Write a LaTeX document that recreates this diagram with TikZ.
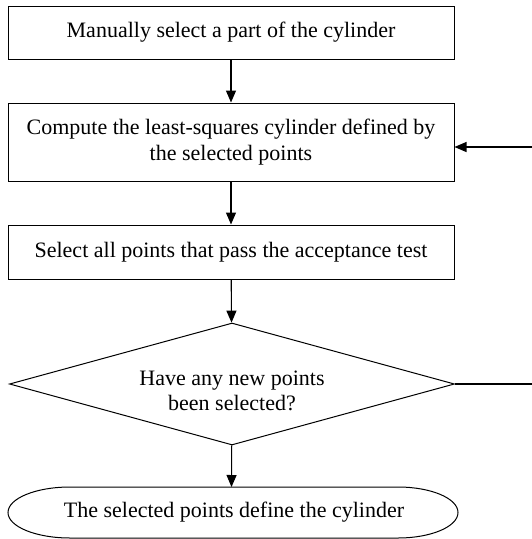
\documentclass[tikz,border=0pt]{standalone}
\usepackage{fontspec}
\setmainfont{Liberation Serif}
\usetikzlibrary{arrows.meta,shapes.geometric}
\begin{document}
\begin{tikzpicture}[x=1pt,y=-1pt,
  every node/.style={font=\fontsize{22}{25.5}\selectfont},
  procbox/.style={draw,line width=1pt,minimum width=446pt,inner sep=0pt,align=center},
  decision/.style={draw,line width=1pt,shape=diamond,aspect=3.65,minimum width=445pt,minimum height=122pt,inner sep=0pt,align=center},
  flow/.style={line width=1.1pt,-{Triangle[length=12pt,width=10pt]}},
  plain/.style={line width=1.1pt}]
\useasboundingbox (0,0) rectangle (532,539);
\node[procbox,minimum height=53pt] (b1) at (231,32.5) {Manually select a part of the cylinder};
\node[procbox,minimum height=78pt] (b2) at (231,142) {Compute the least-squares cylinder defined by\\the selected points};
\node[procbox,minimum height=54pt] (b3) at (231,252) {Select all points that pass the acceptance test};
\node[decision] (d) at (232,384) {};
\node (dt) at (232,391) [align=center] {Have any new points\\been selected?};
\draw[line width=1pt] (70,487) -- (398,487) arc[start angle=-90,end angle=90,x radius=60,y radius=25.5]
  -- (70,538) arc[start angle=90,end angle=270,x radius=62,y radius=25.5] -- cycle;
\node (e) at (234,512.5) {The selected points define the cylinder};
\coordinate (et) at (231.5,487);
\coordinate (r1) at (533,147);
\coordinate (r2) at (533,384);
\draw[flow] (b1) -- (b2);
\draw[flow] (b2) -- (b3);
\draw[flow] (b3) -- (d);
\draw[flow] (d) -- (et);
\draw[flow] (r1) -- (b2.east |- r1);
\draw[plain] (d.east) -- (r2);
\end{tikzpicture}
\end{document}
